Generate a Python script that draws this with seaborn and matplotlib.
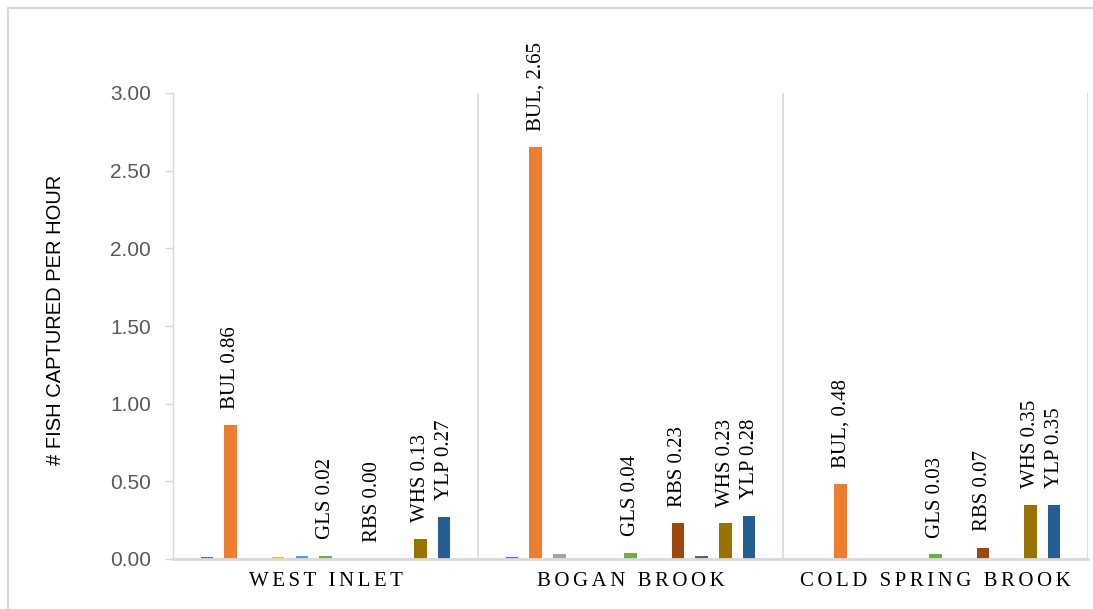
import numpy as np
import pandas as pd
import seaborn as sns
import matplotlib.pyplot as plt
from matplotlib.lines import Line2D

# ---------------- data ----------------
SITES = ["WEST INLET", "BOGAN BROOK", "COLD SPRING BROOK"]
SPECIES = ["AME", "BUL", "CHP", "CSH", "FAL", "GLS", "LMB", "RBS", "SMB", "WHS", "YLP"]
WEST_INLET = [0.015, 0.86, 0.0, 0.015, 0.02, 0.02, 0.0, 0.0, 0.0, 0.13, 0.27]
BOGAN_BROOK = [0.01, 2.65, 0.03, 0.0, 0.0, 0.04, 0.0, 0.23, 0.02, 0.23, 0.28]
COLD_SPRING_BROOK = [0.0, 0.48, 0.0, 0.0, 0.0, 0.03, 0.0, 0.07, 0.0, 0.35, 0.35]
LABELED_SPECIES = ["BUL", "GLS", "RBS", "WHS", "YLP"]
WEST_INLET_LABELS = ["BUL 0.86", "GLS 0.02", "RBS 0.00", "WHS 0.13", "YLP 0.27"]
BOGAN_BROOK_LABELS = ["BUL, 2.65", "GLS 0.04", "RBS 0.23", "WHS 0.23", "YLP 0.28"]
COLD_SPRING_BROOK_LABELS = ["BUL, 0.48", "GLS 0.03", "RBS 0.07", "WHS 0.35", "YLP 0.35"]
Y_TICKS = [0.0, 0.5, 1.0, 1.5, 2.0, 2.5, 3.0]
Y_LABEL = "# FISH CAPTURED PER HOUR"

COLORS = ["#4472C4", "#ED7D31", "#A5A5A5", "#FFC000", "#5B9BD5", "#70AD47",
          "#264478", "#9E480E", "#636363", "#997300", "#255E91"]

site_values = [WEST_INLET, BOGAN_BROOK, COLD_SPRING_BROOK]
site_labels = [WEST_INLET_LABELS, BOGAN_BROOK_LABELS, COLD_SPRING_BROOK_LABELS]

rows = []
for site, vals in zip(SITES, site_values):
    for sp, v in zip(SPECIES, vals):
        rows.append({"site": site, "species": sp, "rate": v})
df = pd.DataFrame(rows)

# ---------------- style ----------------
sns.set_style("white")
plt.rcParams["font.family"] = ["Liberation Sans", "DejaVu Sans"]

W, H = 1093, 609
fig = plt.figure(figsize=(W / 100, H / 100), dpi=100)
ax = fig.add_axes([173 / W, 1 - 559 / H, 915 / W, 466 / H])

sns.barplot(data=df, x="site", y="rate", hue="species", order=SITES,
            hue_order=SPECIES, palette=COLORS, saturation=1, width=0.855,
            gap=0.47, linewidth=0, errorbar=None, legend=False, ax=ax)

ax.set_xlim(-0.5, 2.5)
ax.set_ylim(0, 3.0)

# data labels
for si, labels in enumerate(site_labels):
    for sp, text in zip(LABELED_SPECIES, labels):
        hi = SPECIES.index(sp)
        bar = ax.containers[hi][si]
        x = bar.get_x() + bar.get_width() / 2
        y = bar.get_height()
        ax.annotate(text, (x, y), xytext=(0, 12), textcoords="offset points",
                    rotation=90, ha="center", va="bottom",
                    fontfamily=["Liberation Serif", "DejaVu Serif"],
                    fontsize=15, color="black")

# axes styling
grid_c = "#D9D9D9"
for s in ["top", "right"]:
    ax.spines[s].set_visible(False)
ax.spines["left"].set_color(grid_c)
ax.spines["left"].set_linewidth(1.0)
ax.spines["bottom"].set_color(grid_c)
ax.spines["bottom"].set_linewidth(2.0)
for xv in [0.5, 1.5, 2.5]:
    ax.axvline(xv, color=grid_c, lw=1.2, zorder=0)

ax.set_yticks(Y_TICKS)
ax.set_yticklabels([f"{v:.2f}" for v in Y_TICKS])
ax.tick_params(axis="y", length=6, width=1, color=grid_c, labelcolor="#595959",
               labelsize=15, pad=10, left=True)

def spaced(s):
    return "\u200a\u200a".join(list(s))

ax.set_xticks(range(len(SITES)))
ax.set_xticklabels([spaced(s) for s in SITES],
                   fontfamily=["Liberation Serif", "DejaVu Serif"],
                   fontsize=15, color="black")
ax.tick_params(axis="x", length=0, pad=9)
ax.set_xlabel("")

ax.set_ylabel(Y_LABEL, fontsize=14.5, color="black")
ax.yaxis.set_label_coords((55 - 173) / 915, (559 - 320) / 466)
ax.yaxis.label.set_va("center")

# chart border (top and left visible)
fig.add_artist(Line2D([7.5 / W, 7.5 / W], [0, 1 - 7.5 / H], transform=fig.transFigure,
                      color=grid_c, lw=1.5))
fig.add_artist(Line2D([7.5 / W, 1], [1 - 7.5 / H, 1 - 7.5 / H], transform=fig.transFigure,
                      color=grid_c, lw=1.5))

fig.savefig("out.png", dpi=100)
